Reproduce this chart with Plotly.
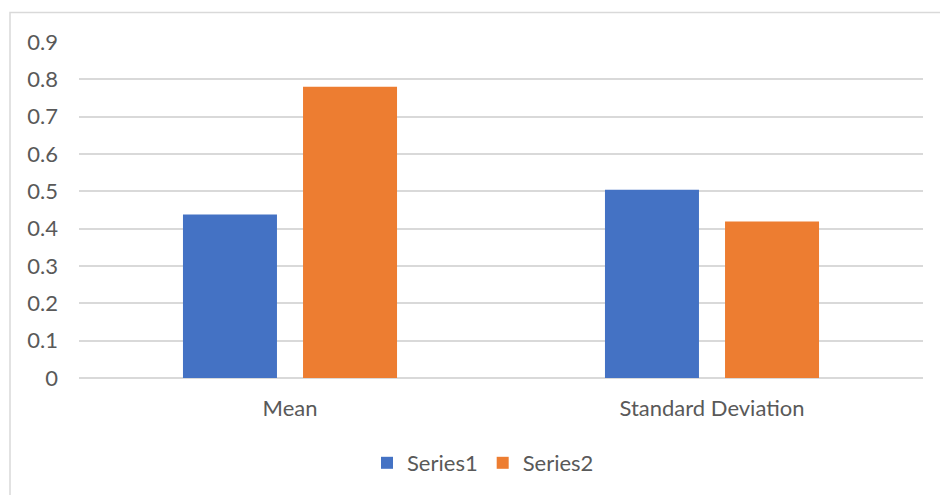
import plotly.graph_objects as go

# Data
categories = ["Mean", "Standard Deviation"]
series1 = [0.438, 0.504]
series2 = [0.780, 0.419]
series_names = ["Series1", "Series2"]
y_ticks = [0, 0.1, 0.2, 0.3, 0.4, 0.5, 0.6, 0.7, 0.8, 0.9]

BLUE = "#4472C4"
ORANGE = "#ED7D31"
GRID = "#D9D9D9"
TEXT = "#595959"
FONT = "Lato, 'Noto Sans', sans-serif"
FS = 22

fig = go.Figure()
fig.add_trace(go.Bar(x=categories, y=series1, name=series_names[0],
                     marker=dict(color=BLUE, line=dict(width=0))))
fig.add_trace(go.Bar(x=categories, y=series2, name=series_names[1],
                     marker=dict(color=ORANGE, line=dict(width=0))))

W, H = 940, 495
ml, mr, mt, mb = 79, 17, 42, 116
pw = W - ml - mr
ph = H - mt - mb

def px_to_paper_x(px):
    return (px - ml) / pw

def px_to_paper_y(py):
    return (H - mb - py) / ph

fig.update_layout(
    width=W, height=H,
    margin=dict(l=ml, r=mr, t=mt, b=mb, pad=0),
    paper_bgcolor="white", plot_bgcolor="white",
    font=dict(family=FONT, size=FS, color=TEXT),
    barmode="group", bargap=0.431, bargroupgap=0.217,
    showlegend=True,
    legend=dict(orientation="h", x=px_to_paper_x(483), xanchor="center",
                y=px_to_paper_y(463), yanchor="middle",
                font=dict(family=FONT, size=FS, color=TEXT),
                itemwidth=30, traceorder="normal"),
    xaxis=dict(showgrid=False, showline=False, zeroline=False,
               ticks="", ticklabelstandoff=15,
               tickfont=dict(family=FONT, size=FS, color=TEXT)),
    yaxis=dict(range=[0, 0.9], tickvals=y_ticks,
               ticktext=[f"{v:g}" for v in y_ticks],
               showgrid=True, gridcolor=GRID, gridwidth=1.5,
               zeroline=True, zerolinecolor=GRID, zerolinewidth=1.5,
               showline=False, ticks="", ticklabelstandoff=20,
               tickfont=dict(family=FONT, size=FS, color=TEXT)),
    shapes=[dict(type="rect", xref="paper", yref="paper",
                 x0=px_to_paper_x(10), x1=px_to_paper_x(960),
                 y0=px_to_paper_y(510), y1=px_to_paper_y(12.5),
                 line=dict(color=GRID, width=1.5), fillcolor="rgba(0,0,0,0)",
                 layer="below")],
)

fig.write_html("out.html")
